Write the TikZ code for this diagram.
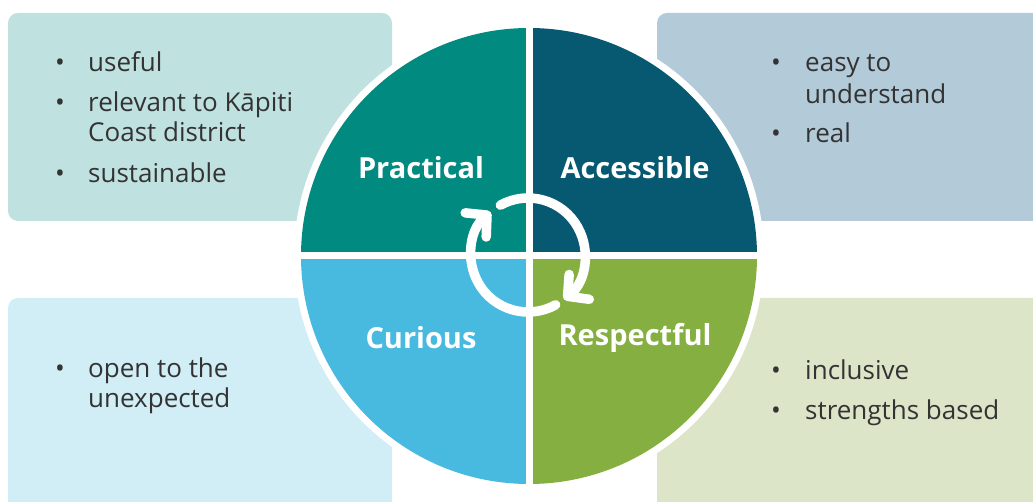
\documentclass[tikz,border=0pt]{standalone}
\usepackage{fontspec}
\setmainfont{Open Sans}
\usetikzlibrary{arrows.meta,calc}
\definecolor{ink}{HTML}{333333}
\definecolor{practc}{HTML}{018A80}
\definecolor{accessc}{HTML}{065971}
\definecolor{curiousc}{HTML}{48B9DF}
\definecolor{respc}{HTML}{86AF42}
\definecolor{practbg}{HTML}{BFE1E0}
\definecolor{accessbg}{HTML}{B3CAD8}
\definecolor{curiousbg}{HTML}{D1EDF5}
\definecolor{respbg}{HTML}{DDE5C9}

\begin{document}
\begin{tikzpicture}[x=1pt,y=1pt,
  panel/.style={rounded corners=10pt},
  quarter/.style={text=white, font=\fontsize{29}{34}\selectfont\bfseries},
  bul/.style={anchor=base west, inner sep=0pt, text=ink, font=\fontsize{26}{30}\selectfont},
  pointtxt/.style={anchor=base west, inner sep=0pt, text=ink, font=\fontsize{26}{30}\selectfont},
  ring/.style={draw=white, line width=9.5pt, line cap=round, -{Straight Barb[length=15pt,width=32pt,round]}}]
\useasboundingbox (0,0) rectangle (1033,502);
\clip (0,0) rectangle (1033,502);

\fill[practbg, panel] (8,281) rectangle (392,489);
\fill[accessbg, panel] (657,281) rectangle (1050,489);
\fill[curiousbg, panel] (8,204) rectangle (392,-20);
\fill[respbg, panel] (657,204) rectangle (1050,-20);

\coordinate (hub) at (529,246);
\fill[white] (hub) circle (235);
\foreach \col/\a in {accessc/0, practc/90, curiousc/180, respc/270}
  \fill[\col] (hub) -- ++(\a:228) arc[start angle=\a, end angle=\a+90, radius=228] -- cycle;
\draw[white, line width=7pt] ($(hub)+(-236,0)$) -- ($(hub)+(236,0)$);
\draw[white, line width=7pt] ($(hub)+(0,-236)$) -- ($(hub)+(0,236)$);

\coordinate (loop) at (528,247);
\draw[ring] ($(loop)+(119:57)$) arc[start angle=119, end angle=-51, radius=57];
\draw[ring] ($(loop)+(-61:57)$) arc[start angle=-61, end angle=-229, radius=57];

\node[quarter] (practical) at (421,334) {Practical};
\node[quarter] (accessible) at (635,334) {Accessible};
\node[quarter] (curious) at (421,164) {Curious};
\node[quarter] (respectful) at (635,164) {Respectful};

% practical
\node[bul] (pb1) at (55,430) {•};
\node[pointtxt] (useful) at (88,430) {useful};
\node[bul] (pb2) at (55,390) {•};
\node[pointtxt] (relevant) at (88,390) {relevant to Kāpiti};
\node[pointtxt] (coast) at (88,360) {Coast district};
\node[bul] (pb3) at (55,319) {•};
\node[pointtxt] (sustain) at (88,319) {sustainable};

% accessible
\node[bul] (ab1) at (771,430) {•};
\node[pointtxt] (easy) at (805,430) {easy to};
\node[pointtxt] (underst) at (805,398) {understand};
\node[bul] (ab2) at (771,359) {•};
\node[pointtxt] (real) at (805,359) {real};

% curious
\node[bul] (cb1) at (55,124) {•};
\node[pointtxt] (open) at (88,124) {open to the};
\node[pointtxt] (unexp) at (88,94) {unexpected};

% respectful
\node[bul] (rb1) at (771,122) {•};
\node[pointtxt] (inclus) at (805,122) {inclusive};
\node[bul] (rb2) at (771,82) {•};
\node[pointtxt] (strength) at (805,82) {strengths based};
\end{tikzpicture}
\end{document}
